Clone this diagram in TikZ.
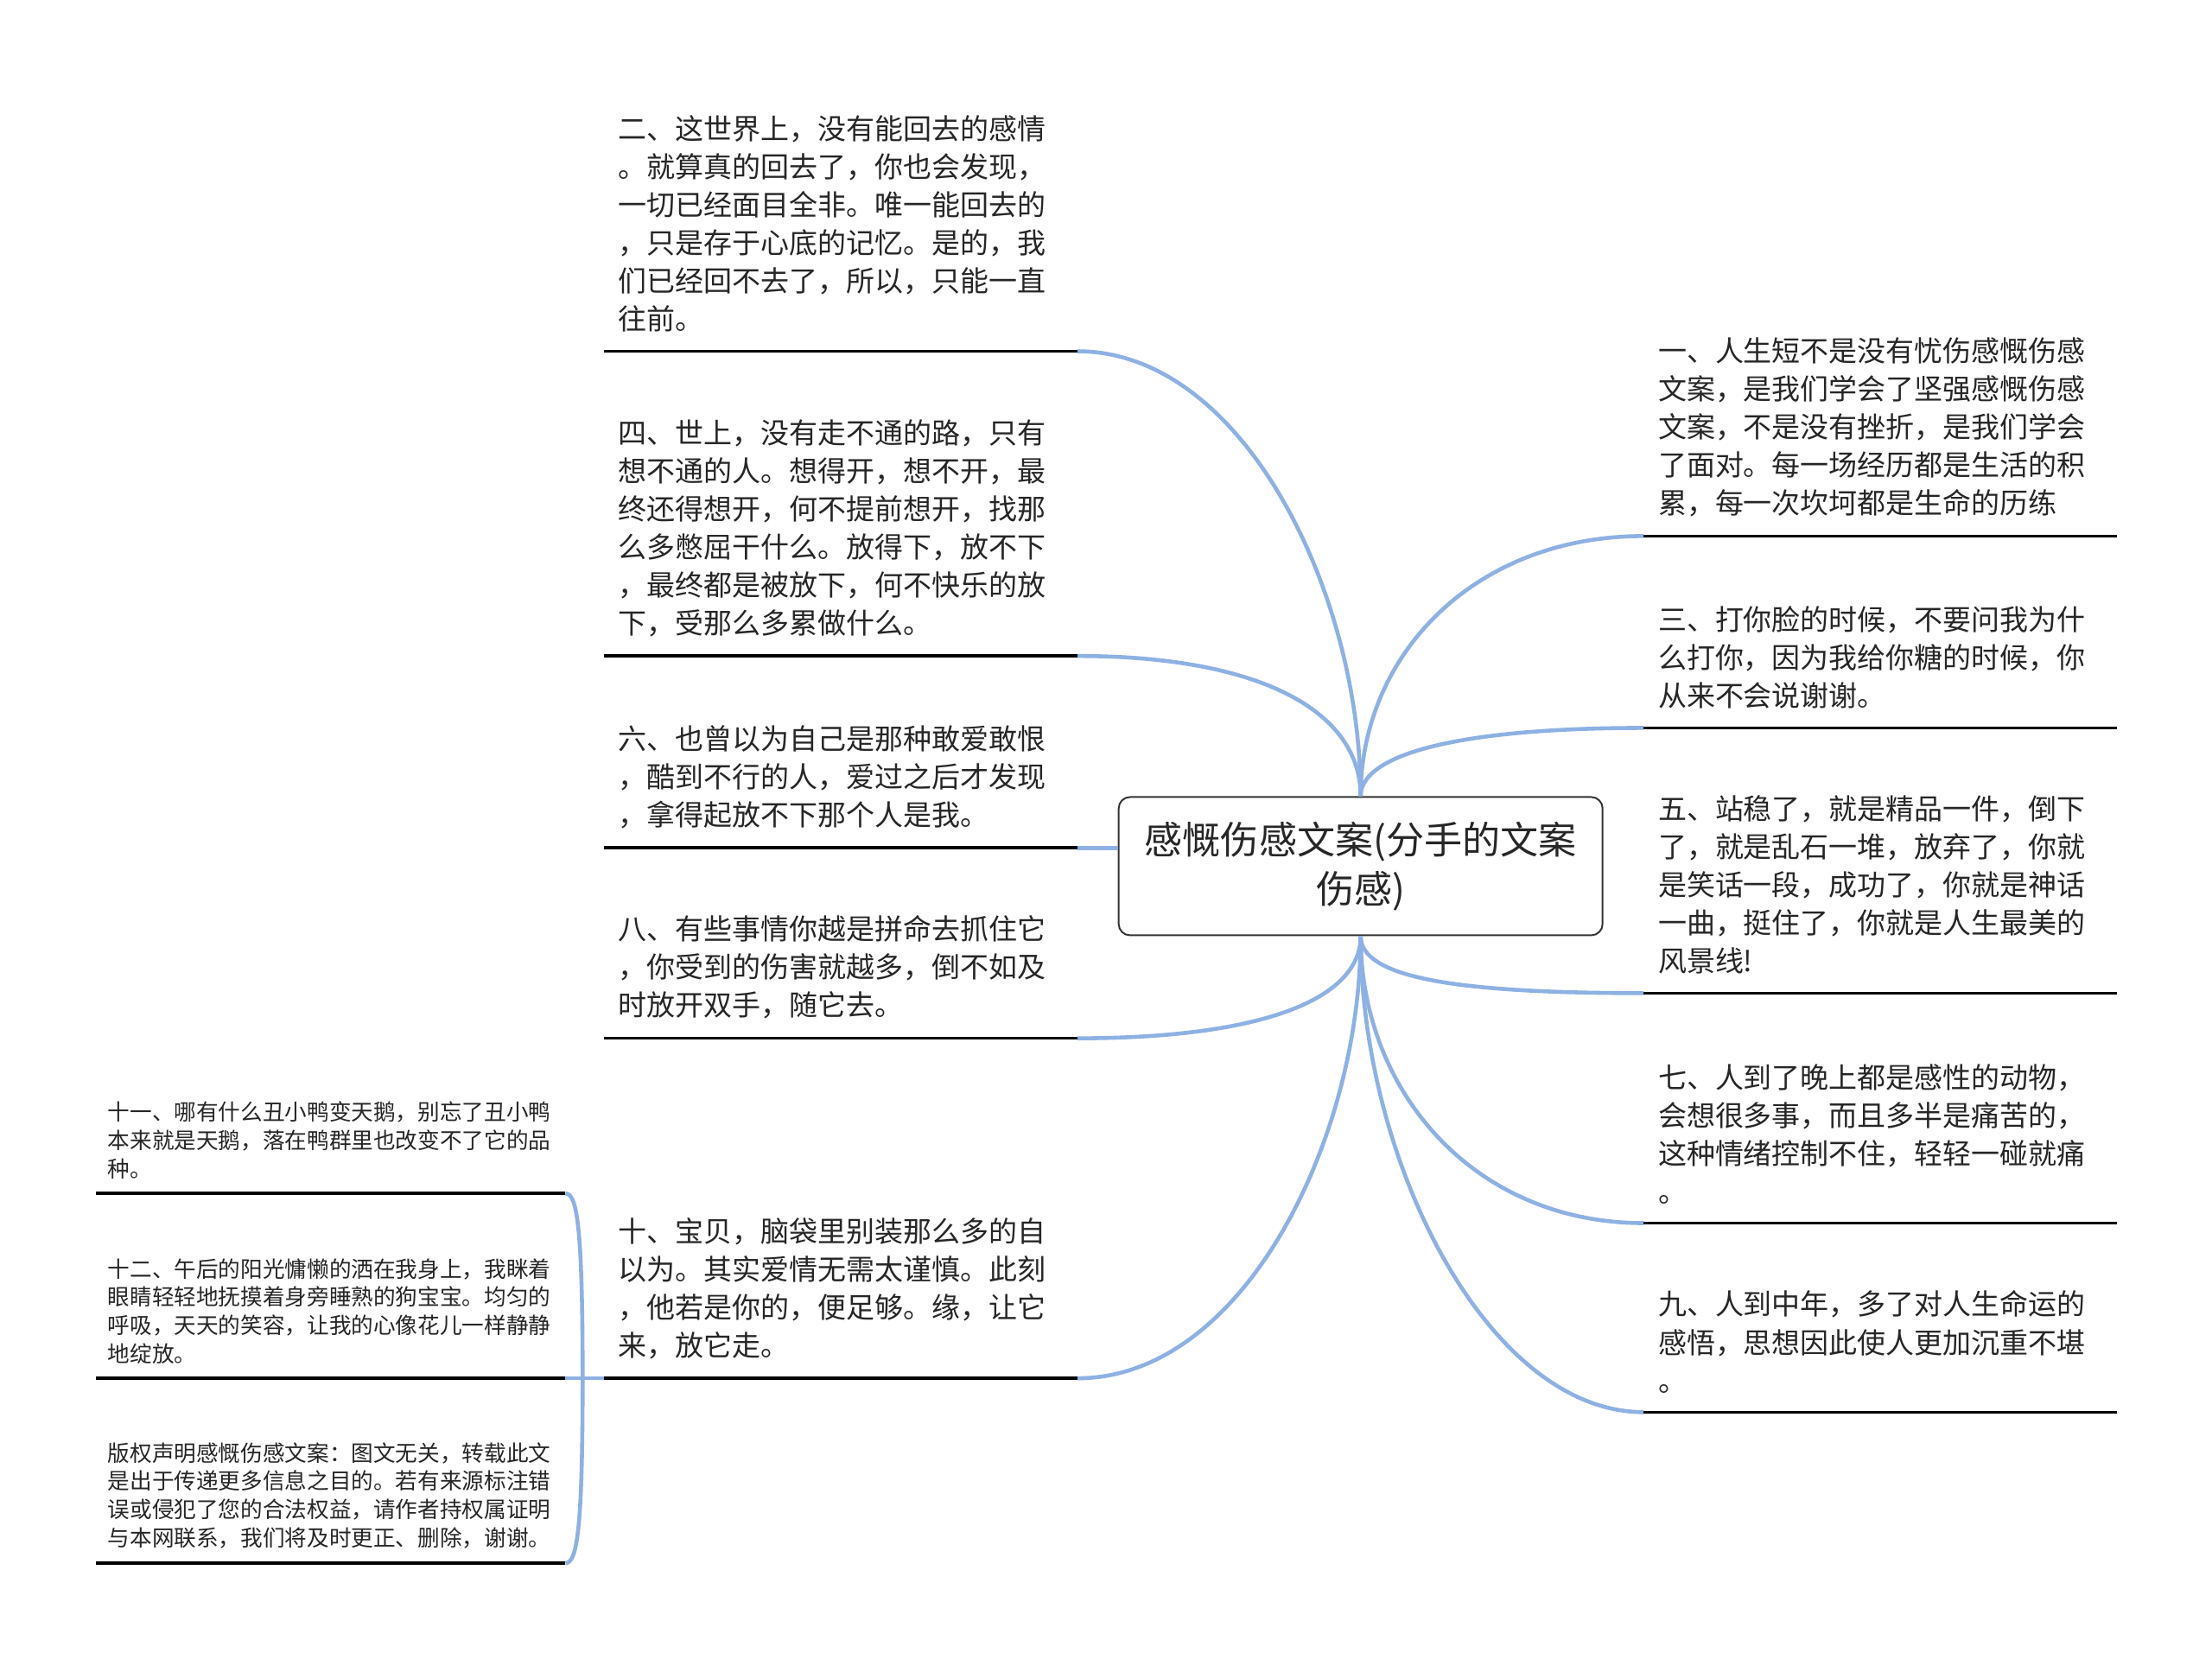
\documentclass[tikz,border=0pt]{standalone}
\usepackage{fontspec}
\newfontfamily\cjk{Noto Sans CJK SC}
\definecolor{linkblue}{HTML}{8DB1E4}

\begin{document}
\begin{tikzpicture}[x=0.5pt,y=-0.5pt,
  link/.style={draw=linkblue,line width=1.4pt},
  uline/.style={draw=black,line width=1.1pt},
  leaf/.style={anchor=south west,align=left,text width=157.5pt,inner xsep=5pt,inner ysep=6.6pt,
    text=black!85,font=\cjk\fontsize{10.1pt}{13.5pt}\selectfont},
  note/.style={leaf,text width=158pt,inner xsep=4pt,inner ysep=5pt,font=\cjk\fontsize{7.85pt}{10pt}\selectfont}]
  \fill[white] (0,0) rectangle (1568,1176);
  \useasboundingbox (0,0) rectangle (1568,1176);

  \node[draw=black!80,line width=0.6pt,rounded corners=4pt,minimum width=171.5pt,minimum height=49pt,
    align=center,text=black!85,font=\cjk\fontsize{13.5pt}{17.5pt}\selectfont] (root) at (964.5,614)
    {感慨伤感文案(分手的文案\\伤感)};

  \node[leaf] (n2) at (428,249) {二、这世界上，没有能回去的感情\\。就算真的回去了，你也会发现，\\一切已经面目全非。唯一能回去的\\，只是存于心底的记忆。是的，我\\们已经回不去了，所以，只能一直\\往前。};
  \node[leaf] (n4) at (428,465) {四、世上，没有走不通的路，只有\\想不通的人。想得开，想不开，最\\终还得想开，何不提前想开，找那\\么多憋屈干什么。放得下，放不下\\，最终都是被放下，何不快乐的放\\下，受那么多累做什么。};
  \node[leaf] (n6) at (428,601) {六、也曾以为自己是那种敢爱敢恨\\，酷到不行的人，爱过之后才发现\\，拿得起放不下那个人是我。};
  \node[leaf] (n8) at (428,736) {八、有些事情你越是拼命去抓住它\\，你受到的伤害就越多，倒不如及\\时放开双手，随它去。};
  \node[leaf] (n10) at (428,977) {十、宝贝，脑袋里别装那么多的自\\以为。其实爱情无需太谨慎。此刻\\，他若是你的，便足够。缘，让它\\来，放它走。};

  \node[leaf] (n1) at (1165,380) {一、人生短不是没有忧伤感慨伤感\\文案，是我们学会了坚强感慨伤感\\文案，不是没有挫折，是我们学会\\了面对。每一场经历都是生活的积\\累，每一次坎坷都是生命的历练};
  \node[leaf] (n3) at (1165,516) {三、打你脸的时候，不要问我为什\\么打你，因为我给你糖的时候，你\\从来不会说谢谢。};
  \node[leaf] (n5) at (1165,704) {五、站稳了，就是精品一件，倒下\\了，就是乱石一堆，放弃了，你就\\是笑话一段，成功了，你就是神话\\一曲，挺住了，你就是人生最美的\\风景线!};
  \node[leaf] (n7) at (1165,867) {七、人到了晚上都是感性的动物，\\会想很多事，而且多半是痛苦的，\\这种情绪控制不住，轻轻一碰就痛\\。};
  \node[leaf] (n9) at (1165,1001) {九、人到中年，多了对人生命运的\\感悟，思想因此使人更加沉重不堪\\。};

  \node[note] (n11) at (68,846) {十一、哪有什么丑小鸭变天鹅，别忘了丑小鸭\\本来就是天鹅，落在鸭群里也改变不了它的品\\种。};
  \node[note] (n12) at (68,977) {十二、午后的阳光慵懒的洒在我身上，我眯着\\眼睛轻轻地抚摸着身旁睡熟的狗宝宝。均匀的\\呼吸，天天的笑容，让我的心像花儿一样静静\\地绽放。};
  \node[note] (n13) at (68,1108) {版权声明感慨伤感文案：图文无关，转载此文\\是出于传递更多信息之目的。若有来源标注错\\误或侵犯了您的合法权益，请作者持权属证明\\与本网联系，我们将及时更正、删除，谢谢。};

  \draw[link] (root.north) .. controls +(0,-145) and +(117,0) .. (n2.south east);
  \draw[link] (root.north) .. controls +(0,-60) and +(130,0) .. (n4.south east);
  \draw[link] (root.west |- n6.south east) -- (n6.south east);
  \draw[link] (root.south) .. controls +(0,45) and +(130,0) .. (n8.south east);
  \draw[link] (root.south) .. controls +(0,145) and +(117,0) .. (n10.south east);
  \draw[link] (root.north) .. controls +(0,-100) and +(-120,0) .. (n1.south west);
  \draw[link] (root.north) .. controls +(0,-30) and +(-130,0) .. (n3.south west);
  \draw[link] (root.south) .. controls +(0,30) and +(-130,0) .. (n5.south west);
  \draw[link] (root.south) .. controls +(0,110) and +(-120,0) .. (n7.south west);
  \draw[link] (root.south) .. controls +(0,160) and +(-110,0) .. (n9.south west);

  \coordinate (fork) at ([xshift=-7.5pt]n10.south west);
  \draw[link] (n10.south west) -- (n12.south east);
  \draw[link] (fork) .. controls +(0,-110) and +(8,0) .. (n11.south east);
  \draw[link] (fork) .. controls +(0,110) and +(8,0) .. (n13.south east);

  \foreach \n in {n1,n2,n3,n4,n5,n6,n7,n8,n9,n10,n11,n12,n13}
    \draw[uline] (\n.south west) -- (\n.south east);
\end{tikzpicture}
\end{document}
